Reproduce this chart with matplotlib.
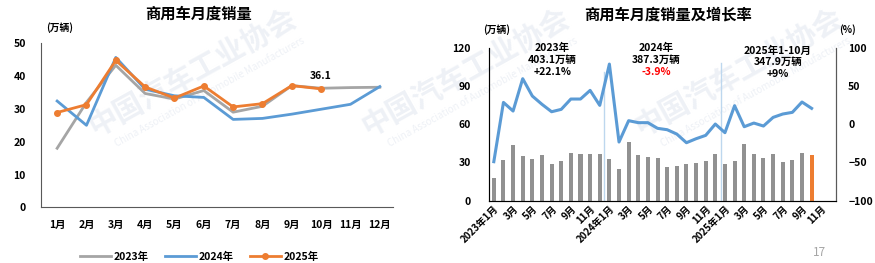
import numpy as np
import matplotlib
matplotlib.use("Agg")
import matplotlib.pyplot as plt

plt.rcParams["font.family"] = ["Noto Sans CJK SC", "DejaVu Sans"]

# monthly sales, 10k vehicles
months = ["1月", "2月", "3月", "4月", "5月", "6月", "7月", "8月", "9月", "10月", "11月", "12月"]
sales_2023 = [18.0, 32.0, 43.3, 34.7, 33.0, 35.6, 29.0, 30.8, 37.1, 36.3, 36.5, 36.6]
sales_2024 = [32.4, 25.0, 45.7, 36.0, 34.0, 33.5, 26.8, 27.1, 28.4, 29.9, 31.4, 36.8]
sales_2025 = [28.9, 31.3, 44.8, 36.7, 33.3, 37.0, 30.6, 31.6, 37.1, 36.1]

# year-on-year growth, %
growth = [-49, 28.5, 17.2, 59.5, 36.8, 26, 16.3, 19.4, 32.9, 32.9, 44.2, 24.6,
          78.6, -23.3, 4.6, 2, 2, -5.4, -7.2, -12.9, -24.2, -19, -14.6, 0.2,
          -11.1, 24.2, -3.3, 1.5, -2.4, 8.9, 13.3, 15.5, 29, 20.7]

xlabels_right = ["2023年1月", "3月", "5月", "7月", "9月", "11月",
                 "2024年1月", "3月", "5月", "7月", "9月", "11月",
                 "2025年1月", "3月", "5月", "7月", "9月", "11月"]

GREY = "#A5A5A5"
BLUE = "#5B9BD5"
ORANGE = "#ED7D31"
BAR_GREY = "#919191"
WM = "#EEF1F6"
W, H = 875, 263

fig = plt.figure(figsize=(8.75, 2.63), dpi=100)


def box(x0, y0, x1, y1):
    # pixel box (top-left origin) -> figure fraction rect
    return [x0 / W, 1 - y1 / H, (x1 - x0) / W, (y1 - y0) / H]


# faint watermark, drawn under everything
for wx in [192, 465, 738]:
    fig.text(wx / W, 1 - 72 / H, "中国汽车工业协会", fontsize=21, fontweight="bold",
             color=WM, rotation=29, ha="center", va="center", zorder=-5)
    fig.text((wx + 18) / W, 1 - 92 / H, "China Association of Automobile Manufacturers",
             fontsize=7, color=WM, rotation=29, ha="center", va="center", zorder=-5)

# ---- left chart ----
ax1 = fig.add_axes(box(41, 43.3, 393, 207.3))
ax1.patch.set_alpha(0)
x12 = np.arange(1, 13)
ax1.plot(x12, sales_2023, color=GREY, lw=2, label="2023年")
ax1.plot(x12, sales_2024, color=BLUE, lw=2, label="2024年")
ax1.plot(x12[:len(sales_2025)], sales_2025, color=ORANGE, lw=2,
         marker="o", ms=4, label="2025年")
ax1.text(10, 40, "36.1", fontsize=7.5, fontweight="bold", ha="center", va="center")
ax1.set_xlim(0.45, 12.45)
ax1.set_ylim(0, 50)
ax1.set_yticks([0, 10, 20, 30, 40, 50])
ax1.set_xticks(x12, months)
for s in ["top", "right"]:
    ax1.spines[s].set_visible(False)
for s in ["left", "bottom"]:
    ax1.spines[s].set_color("#595959")
ax1.tick_params(length=0, labelsize=7.5)
ax1.tick_params(axis="y", pad=11)
ax1.tick_params(axis="x", pad=9)
for t in ax1.get_xticklabels() + ax1.get_yticklabels():
    t.set_fontweight("bold")
fig.text(199 / W, 1 - 13.5 / H, "商用车月度销量", fontsize=11, fontweight="bold",
         ha="center", va="center")
fig.text(60 / W, 1 - 28 / H, "(万辆)", fontsize=7, fontweight="bold", ha="center", va="center")
leg = ax1.legend(loc="center", bbox_to_anchor=(0.45, -0.3), ncol=3, frameon=False,
                 fontsize=7.5, handlelength=3, columnspacing=1.5, handletextpad=0.3)
for t in leg.get_texts():
    t.set_fontweight("bold")

# ---- right chart ----
ax2 = fig.add_axes(box(489, 47.7, 835.7, 200.7))
ax2.patch.set_alpha(0)
all_sales = sales_2023 + sales_2024 + sales_2025
idx = np.arange(len(all_sales))
colors = [BAR_GREY] * (len(all_sales) - 1) + [ORANGE]
ax2.bar(idx, all_sales, width=0.42, color=colors, zorder=2)
ax2.plot([11.45, 11.45], [0, 101], color="#BDD7EE", lw=1, zorder=1)
ax2.plot([23.6, 23.6], [0, 108], color="#BDD7EE", lw=1, zorder=1)
ax2.set_xlim(-0.5, 35.5)
ax2.set_ylim(0, 120)
ax2.set_yticks([0, 30, 60, 90, 120])
ax2.set_xticks(np.arange(0, 35, 2), xlabels_right, rotation=45, ha="right",
               rotation_mode="anchor")
ax2.spines["top"].set_visible(False)
for s in ["left", "bottom", "right"]:
    ax2.spines[s].set_color("#595959")
ax2.tick_params(length=0, labelsize=7.5)
ax2.tick_params(axis="y", pad=13)
ax2.tick_params(axis="x", pad=2, labelsize=7)
for t in ax2.get_xticklabels() + ax2.get_yticklabels():
    t.set_fontweight("bold")

ax3 = ax2.twinx()
ax3.plot(idx[:len(growth)], growth, color=BLUE, lw=2.2, zorder=3)
ax3.set_ylim(-100, 100)
ax3.set_yticks([-100, -50, 0, 50, 100])
ax3.spines["top"].set_visible(False)
ax3.spines["right"].set_color("#595959")
ax3.tick_params(length=0, labelsize=7.5, pad=9)
for t in ax3.get_yticklabels():
    t.set_fontweight("bold")

fig.text(668 / W, 1 - 15 / H, "商用车月度销量及增长率", fontsize=11, fontweight="bold",
         ha="center", va="center")
fig.text(497 / W, 1 - 30 / H, "(万辆)", fontsize=7, fontweight="bold", ha="center", va="center")
fig.text(847 / W, 1 - 30 / H, "(%)", fontsize=7, fontweight="bold", ha="center", va="center")

notes = [
    (6.1, [120, 110.4, 101.2], ["2023年", "403.1万辆", "+22.1%"], ["black", "black", "black"]),
    (16.9, [120, 110.4, 101.2], ["2024年", "387.3万辆", "-3.9%"], ["black", "black", "#FF0000"]),
    (29.5, [117.4, 108.8, 99.6], ["2025年1-10月", "347.9万辆", "+9%"], ["black", "black", "black"]),
]
for nx, ys, lines, cols in notes:
    for ny, txt, c in zip(ys, lines, cols):
        ax3.text(nx, (ny - 60) * 200 / 120, txt, fontsize=7.5, fontweight="bold", color=c,
                 ha="center", va="center", zorder=5)

fig.text(819 / W, 1 - 253 / H, "17", fontsize=8.5, color="#A6A6A6", ha="center", va="center")

fig.savefig("out.png", dpi=100)
